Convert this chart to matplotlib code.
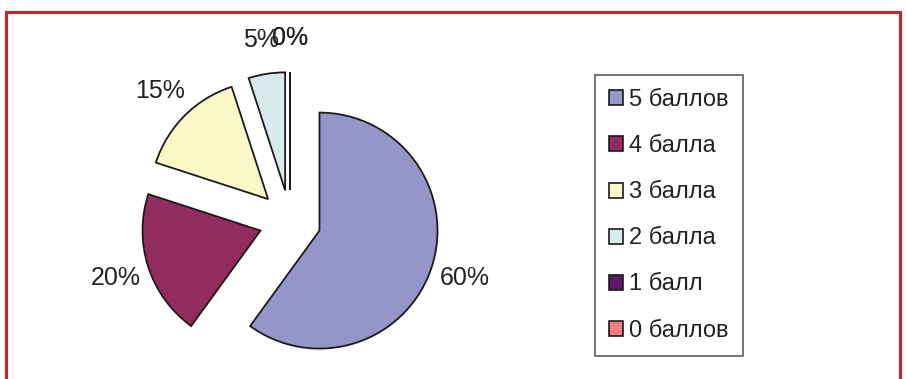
import matplotlib
matplotlib.use("Agg")
import matplotlib.pyplot as plt
from matplotlib.lines import Line2D

plt.rcParams['font.family'] = ['Liberation Sans', 'DejaVu Sans']

# grade distribution
labels = ["5 баллов", "4 балла", "3 балла", "2 балла", "1 балл", "0 баллов"]
shares = [60, 20, 15, 5, 0, 0]
colors = ["#9595c9", "#932c5e", "#fcf9c8", "#d8eaec", "#5c1a66", "#f08080"]

W, H = 906, 379
fig = plt.figure(figsize=(W / 100, H / 100), dpi=100)
ax = fig.add_axes([0, 0, 1, 1])

pct = ["%d%%" % v for v in shares]
# explode is in data units here (pixels), every wedge pulled out equally
wedges, texts = ax.pie(shares, labels=pct, colors=colors, startangle=90,
                       counterclock=False, center=(290, H - 221), radius=118,
                       explode=[31] * len(shares), labeldistance=1.29,
                       wedgeprops=dict(edgecolor="#1a1a1a", linewidth=1.3),
                       textprops=dict(fontsize=18, color="#222222"),
                       frame=True)
for t in texts:
    t.set_horizontalalignment("center")
    t.set_verticalalignment("center")
ax.set_xlim(0, W)
ax.set_ylim(0, H)
ax.set_aspect("equal")
ax.axis("off")

handles = [plt.Rectangle((0, 0), 1, 1, facecolor=c, edgecolor="#1a1a1a", lw=1.2)
           for c in colors]
leg = fig.legend(handles, labels, loc="upper left", bbox_to_anchor=(595 / W, 1 - 75 / H),
                 frameon=True, fancybox=False, shadow=False, fontsize=17,
                 handlelength=0.6, handleheight=0.6, handletextpad=0.25,
                 labelspacing=1.02, borderpad=0.6, borderaxespad=0)
leg.get_frame().set_edgecolor("#333333")
leg.get_frame().set_linewidth(1.2)
for t in leg.get_texts():
    t.set_color("#222222")

# red frame on top, left and right
red = "#c0282b"
fig.add_artist(Line2D([6 / W, 900 / W], [1 - 12 / H, 1 - 12 / H], color=red, lw=2.2))
fig.add_artist(Line2D([6 / W, 6 / W], [0, 1 - 12 / H], color=red, lw=2.2))
fig.add_artist(Line2D([900 / W, 900 / W], [0, 1 - 12 / H], color=red, lw=2.2))

fig.savefig("out.png", dpi=100)
